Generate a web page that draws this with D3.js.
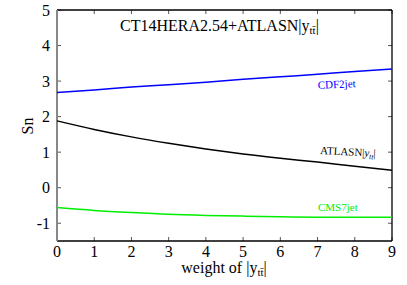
<!DOCTYPE html>
<html><head><meta charset="utf-8">
<script src="https://cdn.jsdelivr.net/npm/d3@7"></script>
<style>body{margin:0;background:#fff}svg{display:block}</style>
</head><body><svg id="c" width="407" height="285"></svg>
<script>
const weights = [0,1,2,3,4,5,6,7,8,9];
const cdf2jet = [2.68,2.75,2.83,2.90,2.97,3.05,3.12,3.19,3.27,3.34];
const atlas = [1.88,1.64,1.43,1.25,1.09,0.95,0.83,0.72,0.60,0.49];
const cms7jet = [-0.56,-0.64,-0.70,-0.75,-0.78,-0.80,-0.82,-0.83,-0.83,-0.83];
const xTicks = [0,1,2,3,4,5,6,7,8,9];
const yTicks = [-1,0,1,2,3,4,5];

const FONT = "Liberation Serif";
const svg = d3.select("#c");
const L=57,R=392,T=10,B=241;
const x = d3.scaleLinear().domain([0,9]).range([L,R]);
const y = d3.scaleLinear().domain([-1.5,5]).range([B,T]);
const txt = () => svg.append("text").style("font-family",FONT);

const tg = svg.append("g").attr("stroke","#555").attr("stroke-width",1);
xTicks.forEach(t=>{
  tg.append("line").attr("x1",x(t)).attr("x2",x(t)).attr("y1",B).attr("y2",B-4);
  tg.append("line").attr("x1",x(t)).attr("x2",x(t)).attr("y1",T).attr("y2",T+4);
});
yTicks.forEach(t=>{
  tg.append("line").attr("x1",L).attr("x2",L+4).attr("y1",y(t)).attr("y2",y(t));
  tg.append("line").attr("x1",R).attr("x2",R-4).attr("y1",y(t)).attr("y2",y(t));
});

svg.append("line").attr("x1",L).attr("x2",R).attr("y1",T).attr("y2",T).attr("stroke","#000").attr("stroke-width",1.3);
svg.append("line").attr("x1",L).attr("x2",R).attr("y1",B).attr("y2",B).attr("stroke","#000").attr("stroke-width",1.3);
svg.append("line").attr("x1",R).attr("x2",R).attr("y1",T).attr("y2",B).attr("stroke","#000").attr("stroke-width",1.3);
svg.append("line").attr("x1",L).attr("x2",L).attr("y1",T).attr("y2",B).attr("stroke","#888").attr("stroke-width",2);

xTicks.forEach(t=>txt().attr("x",x(t)).attr("y",B+16).attr("text-anchor","middle").attr("font-size",16).text(t));
yTicks.forEach(t=>txt().attr("x",L-7).attr("y",y(t)+5.5).attr("text-anchor","end").attr("font-size",16).text(t));

const xt = txt().attr("x",224).attr("y",273).attr("text-anchor","middle").attr("font-size",16);
xt.append("tspan").text("weight of |y");
xt.append("tspan").attr("font-size",11).attr("dy",3).text("t\u0074\u0304");
xt.append("tspan").attr("dy",-3).text("|");
txt().attr("transform","translate(33,126) rotate(-90)").attr("text-anchor","middle").attr("font-size",16).text("Sn");

const tt = txt().attr("x",120).attr("y",31).attr("font-size",16);
tt.append("tspan").text("CT14HERA2.54+ATLASN|y");
tt.append("tspan").attr("font-size",11).attr("dy",3).text("t\u0074\u0304");
tt.append("tspan").attr("dy",-3).text("|");

const line = d3.line().x((d,i)=>x(weights[i])).y(d=>y(d)).curve(d3.curveMonotoneX);
[[cdf2jet,"#0000ff"],[atlas,"#000000"],[cms7jet,"#00ee00"]].forEach(([s,c])=>{
  svg.append("path").attr("d",line(s)).attr("fill","none").attr("stroke",c).attr("stroke-width",1.5);
});

txt().attr("transform","translate(318,89) rotate(-3)").attr("font-size",11).attr("fill","#0000ff").text("CDF2jet");
const al = txt().attr("transform","translate(320,154) rotate(3)").attr("font-size",11).attr("fill","#000");
al.append("tspan").text("ATLASN|");
al.append("tspan").attr("font-style","italic").text("y");
al.append("tspan").attr("font-style","italic").attr("font-size",7.5).attr("dy",2.5).text("tt");
al.append("tspan").attr("dy",-2.5).text("|");
txt().attr("x",318).attr("y",211).attr("font-size",11).attr("fill","#00ee00").text("CMS7jet");
</script></body></html>
